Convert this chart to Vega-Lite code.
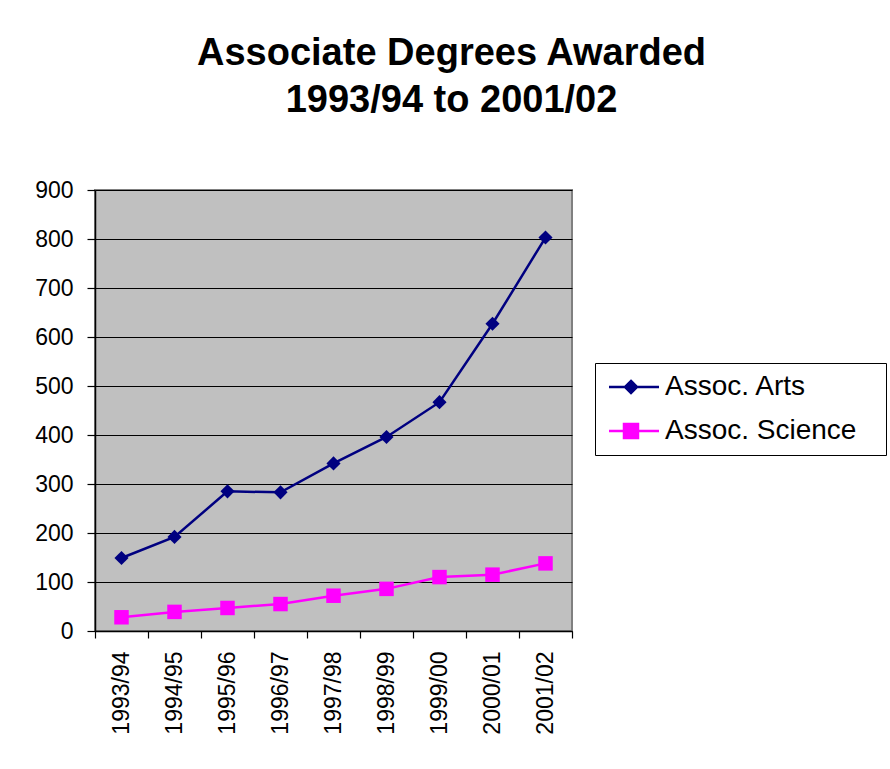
{
  "$schema": "https://vega.github.io/schema/vega-lite/v6.json",
  "width": 477,
  "height": 441,
  "autosize": {"type": "none"},
  "padding": {"left": 95, "top": 190, "right": 318, "bottom": 138},
  "background": "white",
  "title": {
    "text": ["Associate Degrees Awarded", "1993/94 to 2001/02"],
    "font": "Liberation Sans",
    "fontSize": 38,
    "fontWeight": "bold",
    "color": "black",
    "anchor": "middle",
    "lineHeight": 47,
    "dx": 118,
    "offset": 59
  },
  "config": {
    "view": {"fill": "#C0C0C0", "stroke": "#808080", "strokeWidth": 2},
    "axis": {
      "labelFont": "Liberation Sans",
      "labelFontSize": 23,
      "labelColor": "black",
      "domainColor": "black",
      "domainWidth": 1.5,
      "tickColor": "black",
      "tickWidth": 1.2,
      "title": null
    }
  },
  "data": {
    "values": [
      {"year": "1993/94", "series": "Assoc. Arts", "value": 149},
      {"year": "1994/95", "series": "Assoc. Arts", "value": 192},
      {"year": "1995/96", "series": "Assoc. Arts", "value": 285},
      {"year": "1996/97", "series": "Assoc. Arts", "value": 283},
      {"year": "1997/98", "series": "Assoc. Arts", "value": 342},
      {"year": "1998/99", "series": "Assoc. Arts", "value": 396},
      {"year": "1999/00", "series": "Assoc. Arts", "value": 467},
      {"year": "2000/01", "series": "Assoc. Arts", "value": 627},
      {"year": "2001/02", "series": "Assoc. Arts", "value": 803},
      {"year": "1993/94", "series": "Assoc. Science", "value": 28},
      {"year": "1994/95", "series": "Assoc. Science", "value": 39},
      {"year": "1995/96", "series": "Assoc. Science", "value": 47},
      {"year": "1996/97", "series": "Assoc. Science", "value": 55},
      {"year": "1997/98", "series": "Assoc. Science", "value": 72},
      {"year": "1998/99", "series": "Assoc. Science", "value": 86},
      {"year": "1999/00", "series": "Assoc. Science", "value": 110},
      {"year": "2000/01", "series": "Assoc. Science", "value": 115},
      {"year": "2001/02", "series": "Assoc. Science", "value": 138}
    ]
  },
  "encoding": {
    "x": {
      "field": "year",
      "type": "ordinal",
      "bandPosition": 0.5,
      "scale": {"type": "band", "paddingInner": 0, "paddingOuter": 0},
      "axis": {
        "labelAngle": 270,
        "tickBand": "extent",
        "tickSize": 7,
        "labelPadding": 13,
        "grid": false
      }
    },
    "y": {
      "field": "value",
      "type": "quantitative",
      "scale": {"domain": [0, 900], "nice": false},
      "axis": {
        "values": [0, 100, 200, 300, 400, 500, 600, 700, 800, 900],
        "tickSize": 8,
        "labelPadding": 14,
        "grid": true,
        "gridColor": "black",
        "gridWidth": 1,
        "gridOpacity": 1
      }
    }
  },
  "layer": [
    {
      "mark": {"type": "point", "size": 0, "strokeWidth": 2.5, "filled": false, "opacity": 1, "fillOpacity": 1, "strokeOpacity": 1},
      "encoding": {
        "fill": {
          "field": "series",
          "type": "nominal",
          "scale": {"domain": ["Assoc. Arts", "Assoc. Science"], "range": ["#000080", "#FF00FF"]},
          "legend": {
            "title": "\u00a0",
            "titleOrient": "right",
            "titlePadding": 20,
            "titleFontSize": 1,
            "orient": "none",
            "legendX": 500,
            "legendY": 173,
            "padding": 10,
            "fillColor": "white",
            "strokeColor": "black",
            "symbolSize": 400,
            "symbolOpacity": 1,
            "symbolStrokeWidth": 2.5,
            "labelFont": "Liberation Sans",
            "labelFontSize": 28,
            "labelColor": "black",
            "labelLimit": 500,
            "labelOffset": 32,
            "rowPadding": 16
          }
        },
        "stroke": {
          "field": "series",
          "type": "nominal",
          "scale": {"domain": ["Assoc. Arts", "Assoc. Science"], "range": ["#000080", "#FF00FF"]}
        },
        "shape": {
          "field": "series",
          "type": "nominal",
          "scale": {
            "domain": ["Assoc. Arts", "Assoc. Science"],
            "range": [
              "M-1,0L4,0M1.2,-0.6L1.8,0L1.2,0.6L0.6,0Z",
              "M-1,0L4,0M0.5,-0.7L1.9,-0.7L1.9,0.7L0.5,0.7Z"
            ]
          }
        }
      }
    },
    {
      "mark": {"type": "line", "strokeWidth": 2.5},
      "encoding": {
        "color": {
          "field": "series",
          "type": "nominal",
          "scale": {"domain": ["Assoc. Arts", "Assoc. Science"], "range": ["#000080", "#FF00FF"]},
          "legend": null
        }
      }
    },
    {
      "transform": [{"filter": "datum.series === 'Assoc. Arts'"}],
      "mark": {"type": "point", "shape": "diamond", "filled": true, "size": 200, "opacity": 1},
      "encoding": {
        "color": {"field": "series", "type": "nominal", "legend": null}
      }
    },
    {
      "transform": [{"filter": "datum.series === 'Assoc. Science'"}],
      "mark": {"type": "point", "shape": "square", "filled": true, "size": 210, "opacity": 1},
      "encoding": {
        "color": {"field": "series", "type": "nominal", "legend": null}
      }
    }
  ]
}
